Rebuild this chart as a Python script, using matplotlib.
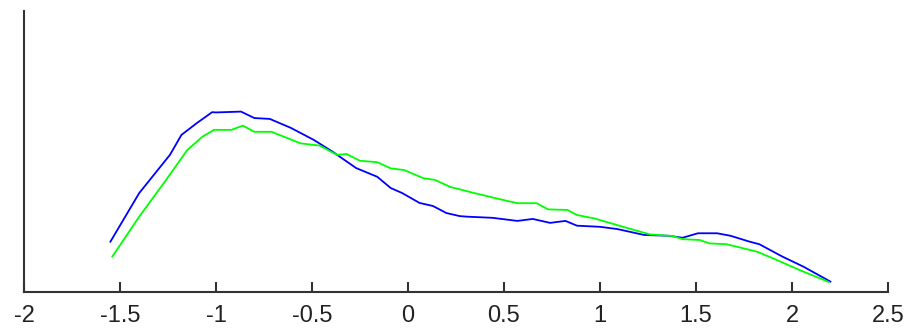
import numpy as np
import matplotlib
matplotlib.use("Agg")
import matplotlib.pyplot as plt

# blue curve
x_blue = [-1.55, -1.40, -1.24, -1.18, -1.10, -1.02, -1.00, -0.87, -0.80, -0.72,
          -0.61, -0.49, -0.39, -0.27, -0.16, -0.09, -0.03, 0.06, 0.13, 0.20,
          0.27, 0.31, 0.44, 0.57, 0.65, 0.74, 0.82, 0.88, 1.00, 1.09,
          1.23, 1.36, 1.43, 1.51, 1.61, 1.68, 1.78, 1.83, 1.95, 2.06, 2.20]
y_blue = [0.179, 0.352, 0.488, 0.559, 0.601, 0.640, 0.639, 0.642, 0.619, 0.616,
          0.584, 0.541, 0.498, 0.441, 0.410, 0.370, 0.352, 0.317, 0.306, 0.281,
          0.270, 0.268, 0.264, 0.253, 0.260, 0.246, 0.253, 0.236, 0.232, 0.224,
          0.203, 0.200, 0.193, 0.209, 0.209, 0.200, 0.179, 0.170, 0.126, 0.090, 0.037]

# green curve
x_green = [-1.54, -1.40, -1.26, -1.15, -1.07, -1.01, -0.92, -0.86, -0.80, -0.71,
           -0.56, -0.46, -0.37, -0.32, -0.25, -0.16, -0.09, -0.02, 0.08, 0.14,
           0.22, 0.34, 0.48, 0.57, 0.67, 0.73, 0.83, 0.88, 0.97, 1.12,
           1.26, 1.38, 1.43, 1.52, 1.57, 1.66, 1.82, 1.90, 2.04, 2.19]
y_green = [0.126, 0.268, 0.399, 0.505, 0.553, 0.577, 0.577, 0.592, 0.570, 0.570,
           0.529, 0.521, 0.488, 0.491, 0.467, 0.462, 0.440, 0.434, 0.405, 0.399,
           0.374, 0.353, 0.330, 0.316, 0.316, 0.294, 0.292, 0.274, 0.262, 0.232,
           0.205, 0.199, 0.188, 0.185, 0.173, 0.170, 0.143, 0.120, 0.078, 0.036]

xticks = [-2, -1.5, -1, -0.5, 0, 0.5, 1, 1.5, 2, 2.5]
xticklabels = ["-2", "-1.5", "-1", "-0.5", "0", "0.5", "1", "1.5", "2", "2.5"]

fig = plt.figure(figsize=(9.11, 3.28), dpi=100)
ax = fig.add_axes([24 / 911, 36 / 328, 864 / 911, 281 / 328])

ax.plot(x_blue, y_blue, color=(0, 0, 1), lw=1.3)
ax.plot(x_green, y_green, color=(0, 1, 0), lw=1.3)

ax.set_xlim(-2, 2.5)
ax.set_ylim(0, 1)
ax.set_xticks(xticks)
ax.set_xticklabels(xticklabels, family="Liberation Sans", fontsize=17, color="#222222")
ax.set_yticks([])
ax.tick_params(axis="x", direction="in", length=7, width=1.5, color="#333333", pad=9)

for side in ["top", "right"]:
    ax.spines[side].set_visible(False)
for side in ["left", "bottom"]:
    ax.spines[side].set_linewidth(1.5)
    ax.spines[side].set_color("#333333")

fig.savefig("out.png", dpi=100)
